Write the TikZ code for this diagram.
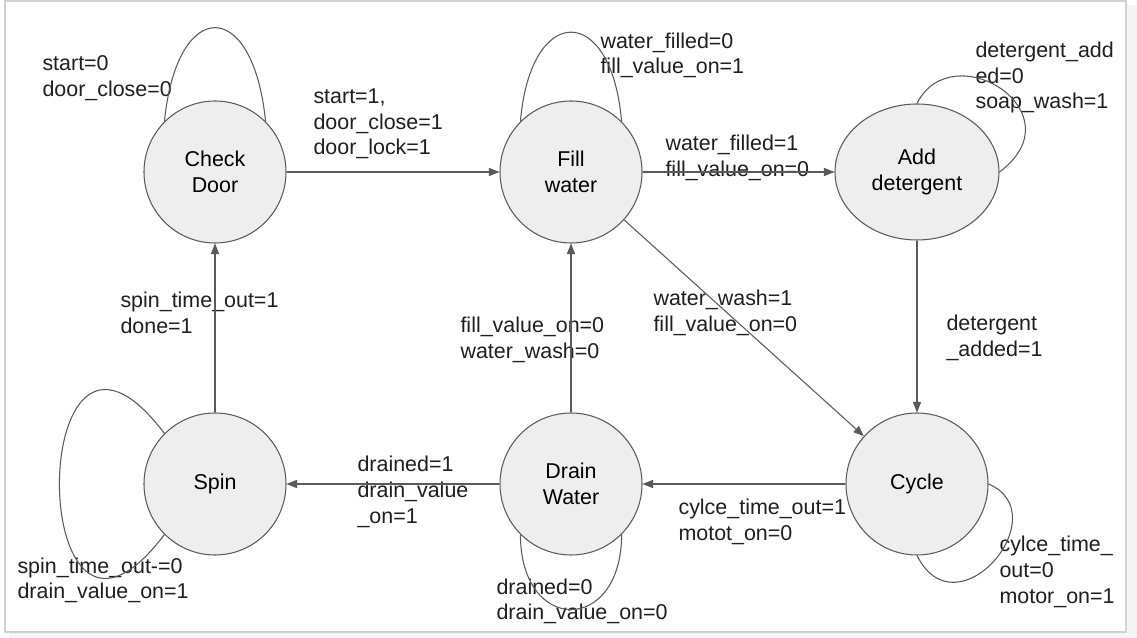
\documentclass[tikz,border=0pt]{standalone}
\usepackage{fontspec}
\setmainfont{Liberation Sans}
\usetikzlibrary{arrows.meta,shapes.geometric}
\definecolor{stfill}{HTML}{EEEEEE}
\definecolor{stline}{HTML}{5A5A5A}

\begin{document}
\begin{tikzpicture}[font=\fontsize{12.2}{14.6}\selectfont, line width=0.6pt,
    st/.style={circle, draw=stline, fill=stfill, minimum size=2.84cm, inner sep=0pt, align=center},
    lbl/.style={anchor=west, align=left, inner sep=0pt, text=black!88},
    tr/.style={draw=stline, -{Triangle[length=6pt,width=4.6pt]}},
    lp/.style={draw=stline}]
         \useasboundingbox (0, 0) rectangle (22.74, 12.76);
         \fill [black!4] (0.2, 0) rectangle (22.74, 12.66);
         \filldraw [fill=white, draw=black!18] (0.1, 0.12) rectangle (22.52, 12.74);
         \node [st] (CD) at (4.30, 9.32) {Check\\Door};
         \node [st] (FW) at (11.42, 9.32) {Fill\\water};
         \node [st, ellipse, minimum width=3.28cm, minimum height=2.72cm] (AD) at (18.34, 9.32) {Add\\detergent};
         \node [st] (SP) at (4.30, 3.08) {Spin};
         \node [st] (DW) at (11.42, 3.08) {Drain\\Water};
         \node [st] (CY) at (18.34, 3.08) {Cycle};
         \node [lbl] (CDl) at (0.84, 11.2) {start=0\\door\_close=0};
         \node [lbl] (CDFW) at (6.26, 10.28) {start=1,\\door\_close=1\\door\_lock=1};
         \node [lbl] (FWl) at (12.0, 11.65) {water\_filled=0\\fill\_value\_on=1};
         \node [lbl] (FWAD) at (13.3, 9.6) {water\_filled=1\\fill\_value\_on=0};
         \node [lbl] (ADl) at (19.5, 11.21) {detergent\_add\\ed=0\\soap\_wash=1};
         \node [lbl] (SPCD) at (2.4, 6.5) {spin\_time\_out=1\\done=1};
         \node [lbl] (DWFW) at (9.2, 5.96) {fill\_value\_on=0\\water\_wash=0};
         \node [lbl] (FWCY) at (13.06, 6.5) {water\_wash=1\\fill\_value\_on=0};
         \node [lbl] (ADCY) at (18.92, 6.0) {detergent\\\_added=1};
         \node [lbl] (DWSP) at (7.14, 2.92) {drained=1\\drain\_value\\\_on=1};
         \node [lbl] (CYDW) at (13.56, 2.32) {cylce\_time\_out=1\\motot\_on=0};
         \node [lbl] (SPl) at (0.34, 1.15) {spin\_time\_out-=0\\drain\_value\_on=1};
         \node [lbl] (DWl) at (9.92, 0.73) {drained=0\\drain\_value\_on=0};
         \node [lbl] (CYl) at (19.98, 1.32) {cylce\_time\_\\out=0\\motor\_on=1};
         % transitions
         \draw [tr] (CD) -- (FW);
         \draw [tr] (FW) -- (AD);
         \draw [tr] (AD) -- (CY);
         \draw [tr] (FW) -- (CY);
         \draw [tr] (CY) -- (DW);
         \draw [tr] (DW) -- (FW);
         \draw [tr] (DW) -- (SP);
         \draw [tr] (SP) -- (CD);
         % self loops
         \draw [lp] (CD.135) .. controls +(0.25, 2.5) and +(-0.25, 2.5) .. (CD.45);
         \draw [lp] (FW.135) .. controls +(0.2, 2.38) and +(-0.2, 2.38) .. (FW.45);
         \draw [lp] (AD.north) .. controls +(0.7, 1.4) and +(1.6, 1.2) .. (AD.east);
         \draw [lp] (SP.135) .. controls +(-2.8, 3.7) and +(-2.8, -3.7) .. (SP.225);
         \draw [lp] (DW.225) .. controls +(0, -2.0) and +(0, -2.0) .. (DW.315);
         \draw [lp] (CY.east) .. controls +(1.4, -0.6) and +(0.8, -1.6) .. (CY.south);
\end{tikzpicture}
\end{document}
